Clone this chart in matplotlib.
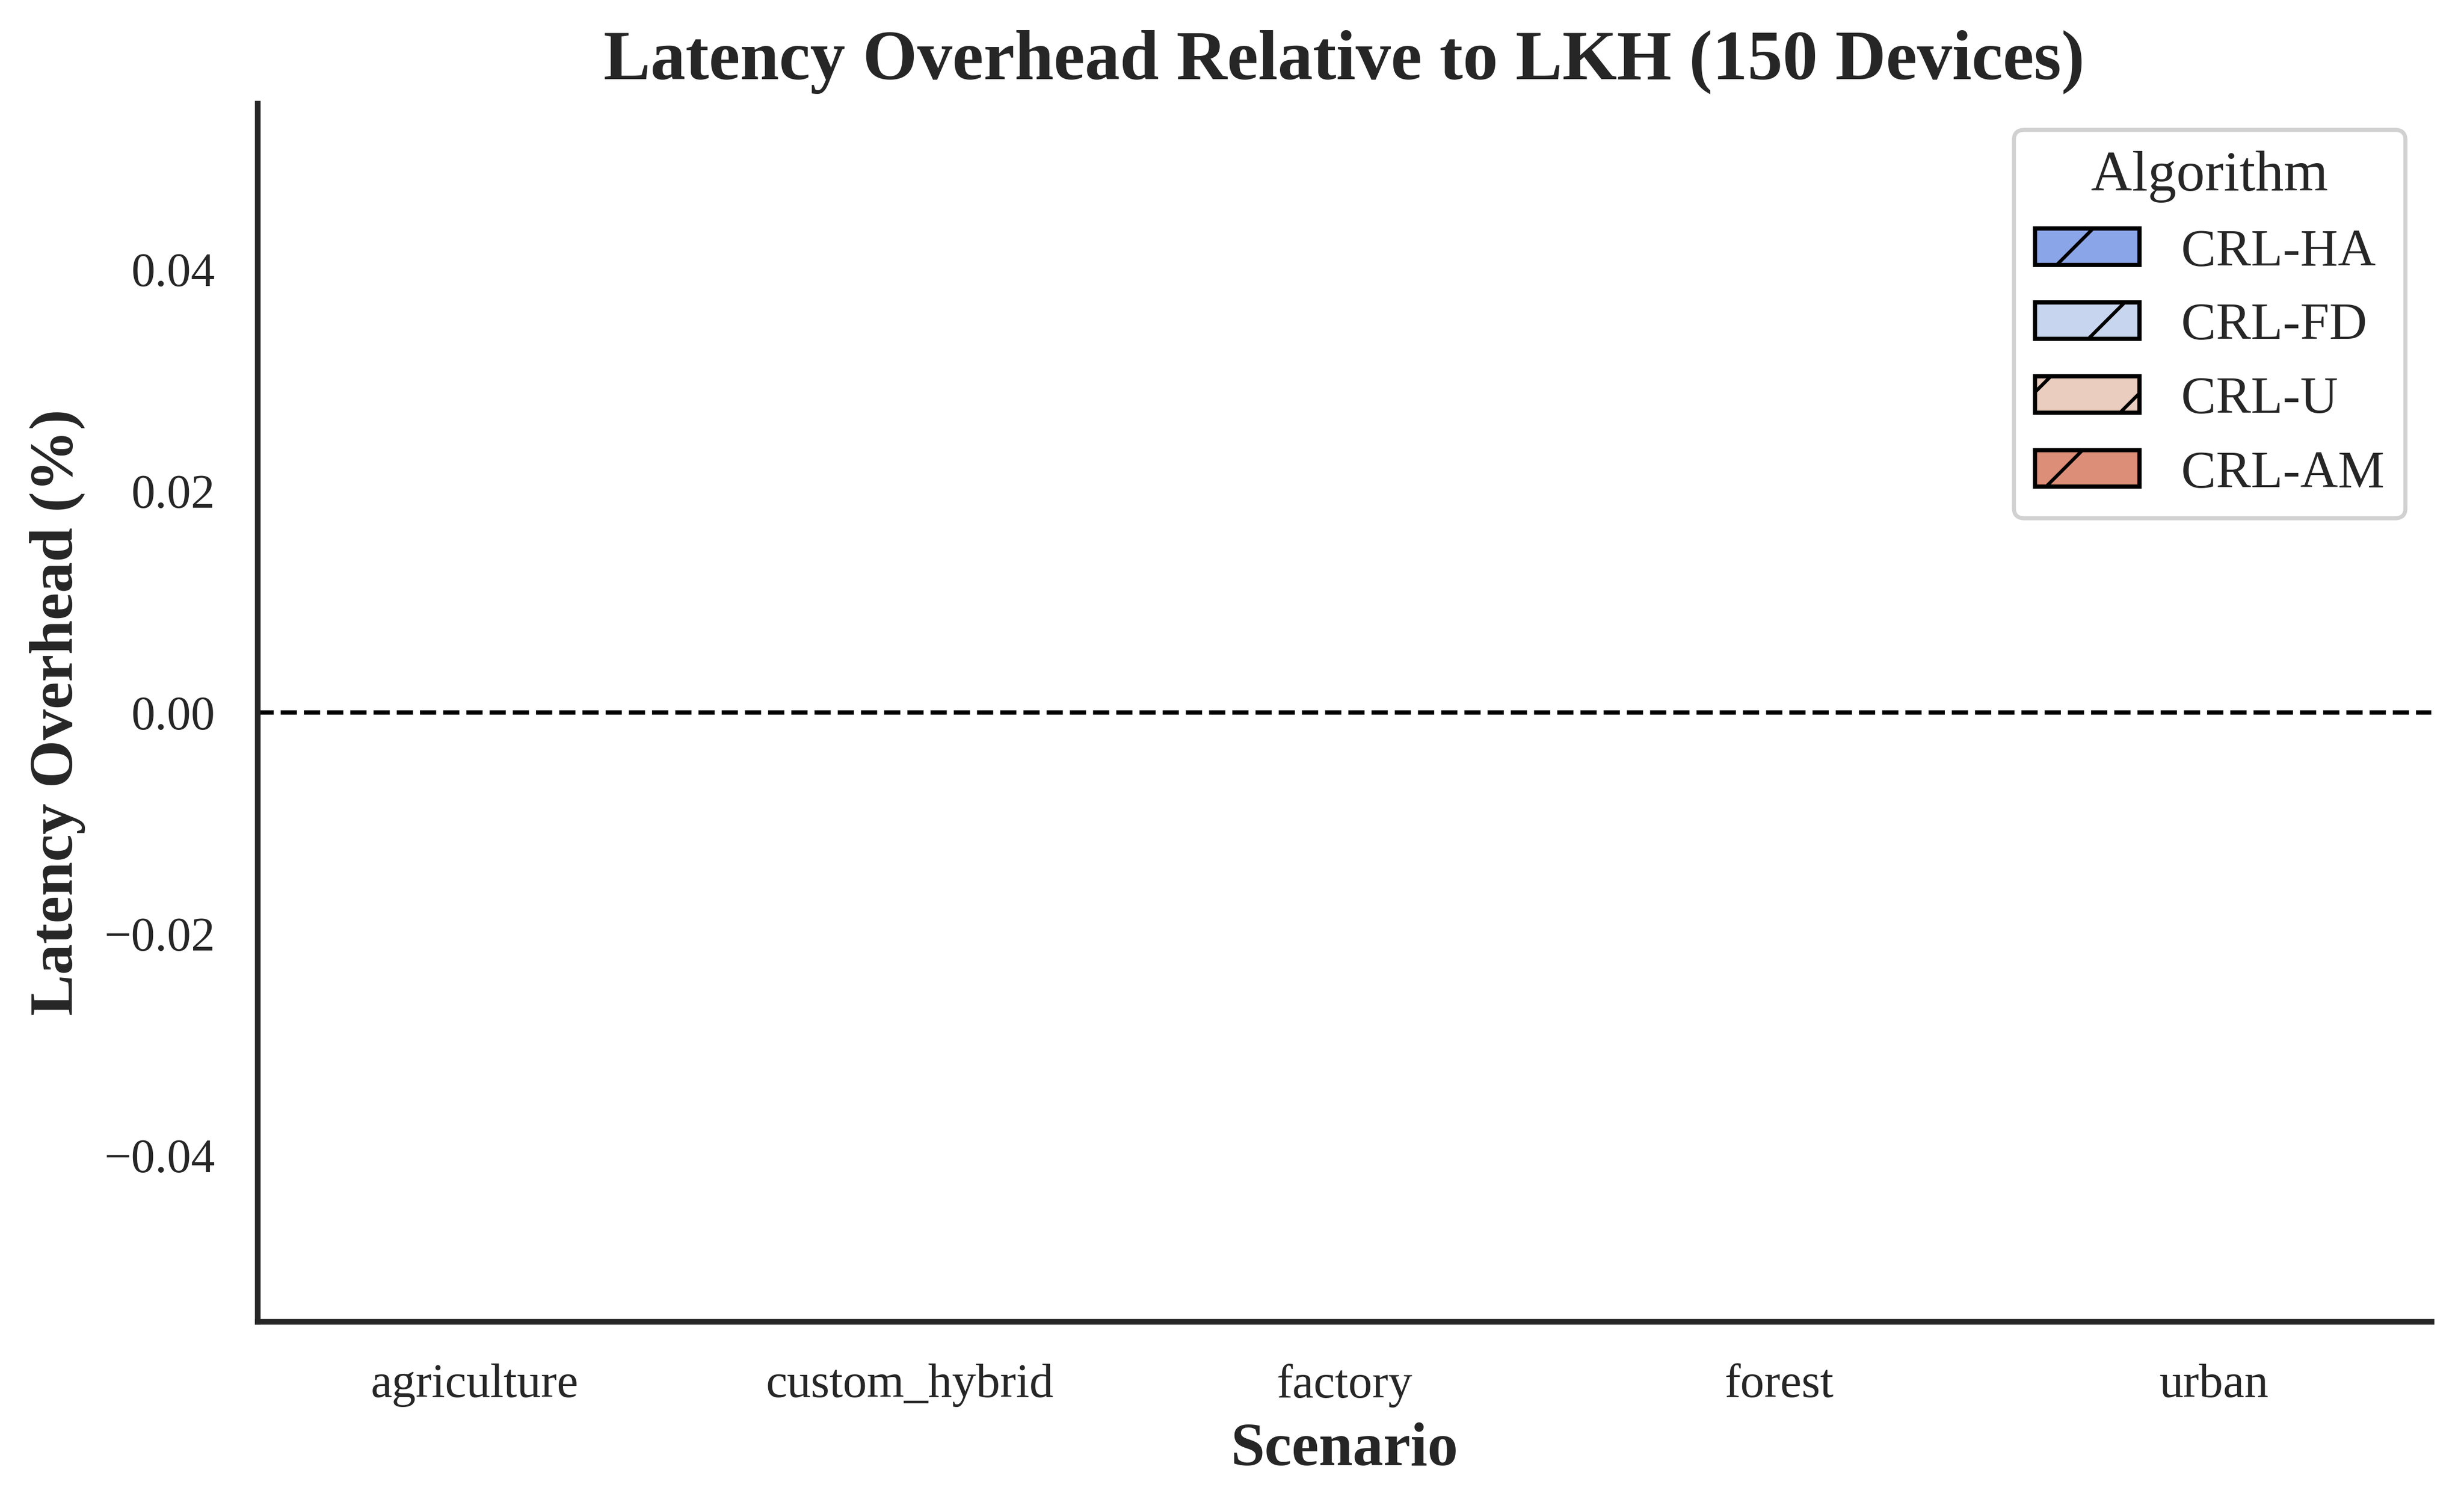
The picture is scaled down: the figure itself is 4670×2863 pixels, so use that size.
import matplotlib
matplotlib.use("Agg")
import matplotlib.pyplot as plt
from matplotlib.patches import Patch
import numpy as np
import seaborn as sns

# ---- data ----
scenarios = ["agriculture", "custom_hybrid", "factory", "forest", "urban"]
algorithms = ["CRL-HA", "CRL-FD", "CRL-U", "CRL-AM"]
overhead_crl_ha = [0.0, 0.0, 0.0, 0.0, 0.0]
overhead_crl_fd = [0.0, 0.0, 0.0, 0.0, 0.0]
overhead_crl_u = [0.0, 0.0, 0.0, 0.0, 0.0]
overhead_crl_am = [0.0, 0.0, 0.0, 0.0, 0.0]
series = [overhead_crl_ha, overhead_crl_fd, overhead_crl_u, overhead_crl_am]
yticks = [-0.04, -0.02, 0.00, 0.02, 0.04]

# ---- geometry helpers ----
DPI = 600
W_PX, H_PX = 4670, 2863


def pt(px):
    return px * 72.0 / DPI


plt.rcParams["font.family"] = ["Liberation Serif", "DejaVu Serif"]
plt.rcParams["text.color"] = ".15"
plt.rcParams["axes.labelcolor"] = ".15"
plt.rcParams["xtick.color"] = ".15"
plt.rcParams["ytick.color"] = ".15"
plt.rcParams["hatch.linewidth"] = pt(6.5)
plt.rcParams["hatch.color"] = "black"

base = sns.color_palette("coolwarm", len(algorithms))
colors = [sns.desaturate(c, 0.75) for c in base]

fig = plt.figure(figsize=(W_PX / DPI, H_PX / DPI), dpi=DPI)
ax = fig.add_axes([488 / W_PX, 1 - 2504 / H_PX, (4608 - 488) / W_PX, (2504 - 196) / H_PX])

x = np.arange(len(scenarios))
width = 0.2
for i, (alg, vals, col) in enumerate(zip(algorithms, series, colors)):
    ax.bar(x + (i - 1.5) * width, vals, width, color=col, hatch="/",
           edgecolor="black", linewidth=0, label=alg)

ax.axhline(0, color="black", linestyle="--", linewidth=pt(8.3))

ax.set_xlim(-0.5, len(scenarios) - 0.5)
ax.set_ylim(-0.055, 0.055)
ax.set_xticks(x)
ax.set_xticklabels(scenarios)
ax.set_yticks(yticks)

for s in ["top", "right"]:
    ax.spines[s].set_visible(False)
for s in ["left", "bottom"]:
    ax.spines[s].set_linewidth(pt(10.7))
    ax.spines[s].set_color(".15")

ax.tick_params(axis="both", length=0, pad=pt(80), labelsize=pt(91))

ax.set_title("Latency Overhead Relative to LKH (150 Devices)",
             fontsize=pt(133), fontweight="bold", pad=pt(46))
ax.set_xlabel("Scenario", fontsize=pt(116), fontweight="bold", labelpad=pt(28))
ax.set_ylabel("Latency Overhead (%)", fontsize=pt(117), fontweight="bold", labelpad=pt(36))

handles = [Patch(facecolor=c, edgecolor="black", hatch="/", linewidth=pt(8), label=a)
           for a, c in zip(algorithms, colors)]
leg = ax.legend(handles=handles, title="Algorithm", loc="upper right",
                fontsize=pt(99), title_fontsize=pt(108), frameon=True,
                fancybox=True, edgecolor="0.82", framealpha=1.0)
leg.get_frame().set_linewidth(pt(7.6))

fig.savefig("out.png", dpi=DPI, facecolor="white")
